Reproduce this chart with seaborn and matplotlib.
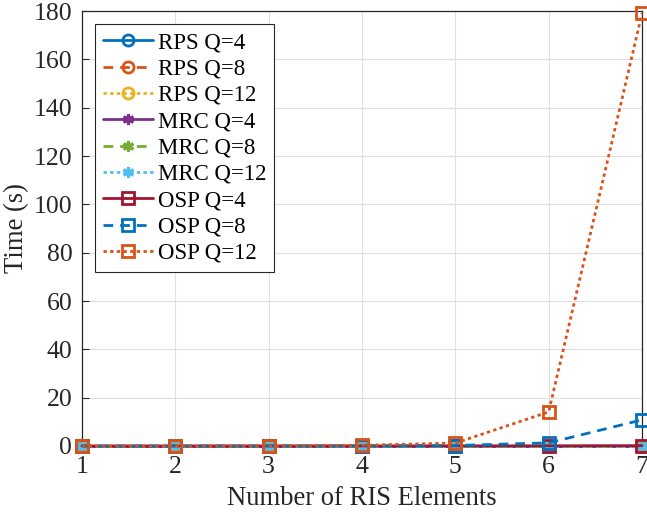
import numpy as np
import pandas as pd
import matplotlib
matplotlib.use("Agg")
import matplotlib.pyplot as plt
import seaborn as sns

# Number of RIS elements
n_elements = [1, 2, 3, 4, 5, 6, 7]

# Computation time (s) per scheme and quantization level Q
rps_q4 = [0.01, 0.01, 0.01, 0.01, 0.01, 0.01, 0.01]
rps_q8 = [0.01, 0.01, 0.01, 0.01, 0.01, 0.01, 0.01]
rps_q12 = [0.01, 0.01, 0.01, 0.01, 0.01, 0.01, 0.01]
mrc_q4 = [0.01, 0.01, 0.01, 0.01, 0.01, 0.01, 0.01]
mrc_q8 = [0.01, 0.01, 0.01, 0.01, 0.01, 0.01, 0.01]
mrc_q12 = [0.01, 0.01, 0.01, 0.01, 0.01, 0.01, 0.01]
osp_q4 = [0.01, 0.01, 0.02, 0.03, 0.05, 0.08, 0.15]
osp_q8 = [0.01, 0.02, 0.04, 0.08, 0.2, 1.3, 10.8]
osp_q12 = [0.02, 0.05, 0.1, 0.3, 1.2, 14.1, 179.0]

labels = ["RPS Q=4", "RPS Q=8", "RPS Q=12",
          "MRC Q=4", "MRC Q=8", "MRC Q=12",
          "OSP Q=4", "OSP Q=8", "OSP Q=12"]
series = [rps_q4, rps_q8, rps_q12, mrc_q4, mrc_q8, mrc_q12, osp_q4, osp_q8, osp_q12]

colors = ["#0072BD", "#D95319", "#EDB120",
          "#7E2F8E", "#77AC30", "#4DBEEE",
          "#A2142F", "#0072BD", "#D95319"]
dashes = ["-", (0, (3.5, 2.5)), (0, (1.2, 1.2))] * 3
markers = ["o"] * 3 + [(6, 2, 0)] * 3 + ["s"] * 3

df = pd.DataFrame({
    "N": np.tile(n_elements, len(labels)),
    "Time": np.concatenate(series),
    "Scheme": np.repeat(labels, len(n_elements)),
})

sns.set_style("ticks")
plt.rcParams["font.family"] = ["Liberation Serif", "DejaVu Serif"]
plt.rcParams["mathtext.fontset"] = "stix"

fig = plt.figure(figsize=(6.47, 5.15), dpi=100)
ax = fig.add_axes([0.1267, 0.134, 0.8656, 0.8446])

for lab, col, ls, mk in zip(labels, colors, dashes, markers):
    sub = df[df["Scheme"] == lab]
    filled = isinstance(mk, tuple)
    sns.lineplot(data=sub, x="N", y="Time", ax=ax, color=col, label=lab,
                 linewidth=2, linestyle=ls, marker=mk,
                 markersize=8,
                 markerfacecolor="none" if not filled else col,
                 markeredgecolor=col, markeredgewidth=2 if not filled else 2.2,
                 clip_on=False, zorder=3)

ax.set_xlim(1, 7)
ax.set_ylim(0, 180)
ax.set_xticks(n_elements)
ax.set_yticks(np.arange(0, 181, 20))
ax.grid(True, color="#DFDFDF", linewidth=0.8)
ax.set_axisbelow(True)
ax.tick_params(direction="in", length=5, width=0.8, colors="#262626",
               labelsize=18.5, top=False, right=False, pad=7)
for sp in ax.spines.values():
    sp.set_color("#262626")
    sp.set_linewidth(0.9)
    sp.set_visible(True)

ax.set_xlabel("Number of RIS Elements", fontsize=19.2, color="#262626", labelpad=6)
ax.set_ylabel("Time (s)", fontsize=19.2, color="#262626")
ax.yaxis.set_label_coords(-0.094, 0.5)

leg = ax.legend(loc="upper left", bbox_to_anchor=(0.0225, 0.9695), fontsize=16.5,
                frameon=True, fancybox=False, framealpha=1, edgecolor="#262626",
                handlelength=2.2, handletextpad=0.2, labelspacing=0.23,
                borderpad=0.35, borderaxespad=0.0)
leg.get_frame().set_linewidth(0.8)
for t in leg.get_texts():
    t.set_color("black")

fig.savefig("out.png", dpi=100)
